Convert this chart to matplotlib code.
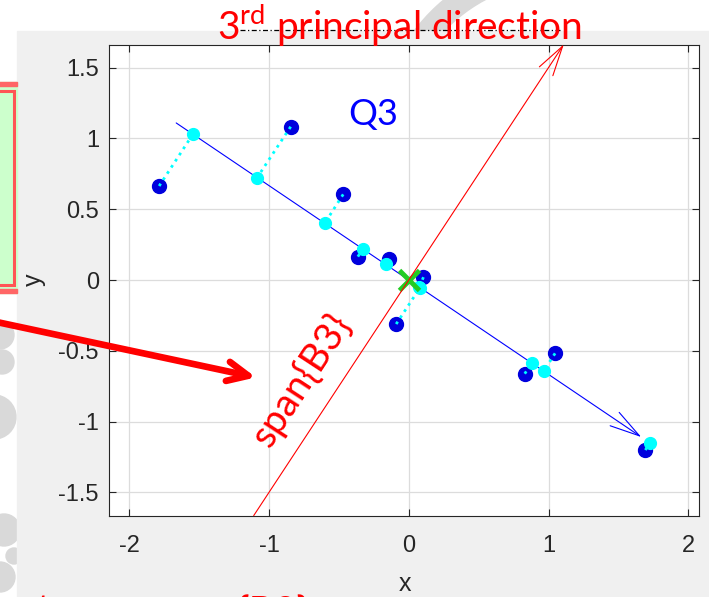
import numpy as np
import matplotlib.pyplot as plt
from matplotlib.patches import Rectangle, Circle, Wedge, FancyArrowPatch
from matplotlib.lines import Line2D
from matplotlib.transforms import Affine2D

plt.rcParams['font.family'] = ['Liberation Sans', 'DejaVu Sans']
plt.rcParams['axes.unicode_minus'] = False

# data points and their projections on the Q3 line
pts_x = [-1.786, -0.845, -0.469, -0.364, -0.140, 0.105, -0.090, 0.830, 1.047, 1.693]
pts_y = [0.664, 1.083, 0.605, 0.165, 0.148, 0.020, -0.311, -0.662, -0.518, -1.201]
proj_x = [-1.545, -1.087, -0.602, -0.330, -0.165, 0.075, 0.080, 0.880, 0.966, 1.727]
proj_y = [1.029, 0.720, 0.400, 0.219, 0.111, -0.052, -0.055, -0.586, -0.643, -1.149]

q3_dir = [0.832, -0.5547]   # blue line
b3_dir = [0.5547, 0.8321]   # 3rd principal direction (red)
arrow_len = 2.0

xticks = [-2, -1, 0, 1, 2]
xtick_labels = ['-2', '-1', '0', '1', '2']
yticks = [-1.5, -1, -0.5, 0, 0.5, 1, 1.5]
ytick_labels = ['-1.5', '-1', '-0.5', '0', '0.5', '1', '1.5']

W, H = 709, 597
fig = plt.figure(figsize=(W / 100, H / 100), dpi=100, facecolor='white')
# pixel coordinates, y going down, for the slide decorations
pix = Affine2D().scale(1 / W, -1 / H).translate(0, 1) + fig.transFigure

# slide stuff behind the matlab window
for c, r in [((0, 335), 14), ((2, 362), 12), ((-6, 417), 22), ((4, 530), 16), ((14, 556), 8), ((0, 577), 15)]:
    fig.add_artist(Circle(c, r, transform=pix, color='#d9d9d9', zorder=-10))
fig.add_artist(Wedge((560, 140), 182, 205, 250, width=23, transform=pix, color='#d9d9d9', zorder=-10))

# matlab figure background
fig.add_artist(Rectangle((17, 31), W, H, transform=pix, color='#f0f0f0', zorder=-5))

# green box on the left
fig.add_artist(Rectangle((-10, 82), 26.7, 211, transform=pix, color='#ccffcc', zorder=-4))
fig.add_artist(Rectangle((-10, 82), 26.7, 3.7, transform=pix, color='#ff6666', zorder=-3))
fig.add_artist(Rectangle((-10, 289), 26.7, 3.7, transform=pix, color='#ff6666', zorder=-3))
fig.add_artist(Rectangle((-10, 90.5), 23.7, 194.5, transform=pix, facecolor='none',
                         edgecolor='#ff5555', lw=2.2, zorder=-3))

ax = fig.add_axes([109.4 / W, 1 - 516 / H, 589.2 / W, 471 / H])
ax.set_facecolor('white')

ax.plot(pts_x, pts_y, 'o', ms=10, color='#0000dd', zorder=3)
for i in range(len(pts_x)):
    ax.plot([pts_x[i], proj_x[i]], [pts_y[i], proj_y[i]], ':', color='cyan', lw=2, zorder=4)
ax.plot(proj_x, proj_y, 'o', ms=8.5, color='cyan', zorder=5)

head = '->,head_length=2.16,head_width=0.58'
ax.annotate('', xy=(arrow_len * q3_dir[0], arrow_len * q3_dir[1]),
            xytext=(-arrow_len * q3_dir[0], -arrow_len * q3_dir[1]),
            arrowprops=dict(arrowstyle=head, color='blue', lw=0.8, shrinkA=0, shrinkB=0,
                            mutation_scale=10),
            annotation_clip=False, zorder=2)
ax.annotate('', xy=(arrow_len * b3_dir[0], arrow_len * b3_dir[1]),
            xytext=(-arrow_len * b3_dir[0], -arrow_len * b3_dir[1]),
            arrowprops=dict(arrowstyle=head, color='red', lw=0.8, shrinkA=0, shrinkB=0,
                            mutation_scale=10),
            annotation_clip=False, zorder=6)

ax.plot([0], [0], 'x', ms=15, mew=3.5, color='#22cc22', zorder=5)

ax.text(-0.435, 1.095, 'Q3', color='blue', fontsize=26, family='Lato', ha='left', va='baseline')
ax.text(-0.765, -0.706, 'span{B3}', color='red', fontsize=28, family='Lato', rotation=56.8,
        rotation_mode='anchor', ha='center', va='center')

ax.set_xlim(-2.142, 2.074)
ax.set_ylim(-1.667, 1.660)
ax.set_xticks(xticks)
ax.set_xticklabels(xtick_labels)
ax.set_yticks(yticks)
ax.set_yticklabels(ytick_labels)
ax.grid(True, color='#dcdcdc', lw=0.9)
ax.set_axisbelow(True)
ax.tick_params(direction='in', top=True, right=True, length=5, width=0.8,
               colors='#262626', labelsize=17)
ax.tick_params(axis='x', pad=14)
ax.tick_params(axis='y', pad=7.5)
for s in ax.spines.values():
    s.set_color('#262626')
    s.set_linewidth(0.8)

ax.set_xlabel('x', fontsize=18, color='#262626')
ax.xaxis.set_label_coords(0.5017, -0.1185)
ax.set_ylabel('y', fontsize=18, color='#262626')
ax.yaxis.set_label_coords(-0.1076, 0.501)

# slide annotations on top
fig.add_artist(Line2D([240, 560], [30, 30], transform=pix, color='black', lw=0.9,
                      ls=(0, (4, 2, 1, 2)), zorder=8))
fig.text(217 / W, 1 - 39 / H, '3$^{\\mathregular{rd}}$ principal direction', color='red',
         fontsize=28, family='Lato', ha='left', va='baseline', zorder=10)
fig.text(36 / W, 1 - 622 / H, 't', color='red', fontsize=28, family='Lato', va='baseline')
fig.text(238 / W, 1 - 624 / H, '{B2}', color='red', fontsize=28, family='Lato', va='baseline')

fig.add_artist(FancyArrowPatch((-30, 316.3), (256, 377.4), transform=pix,
                               arrowstyle='->,head_length=1.5,head_width=0.7', mutation_scale=10,
                               lw=4.8, color='red', capstyle='round', joinstyle='round',
                               shrinkA=0, shrinkB=0, zorder=20))

fig.savefig('out.png', dpi=100, facecolor=fig.get_facecolor())
